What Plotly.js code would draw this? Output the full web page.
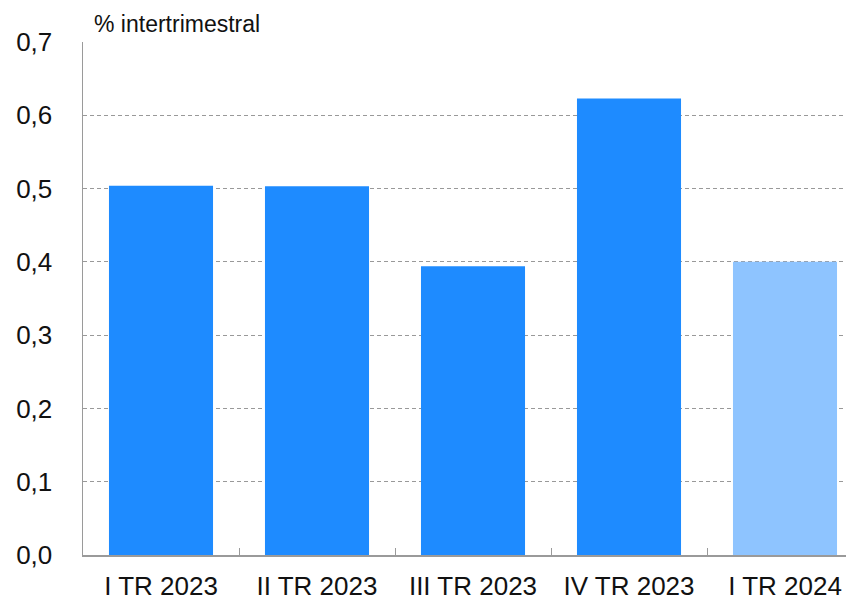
<!DOCTYPE html>
<html>
<head>
<meta charset="utf-8">
<script src="https://cdn.plot.ly/plotly-3.0.1.min.js"></script>
<style>html,body{margin:0;padding:0;background:#fff}#chart{width:846px;height:600px}</style>
</head>
<body>
<div id="chart"></div>
<script>
const categories = ["I TR 2023", "II TR 2023", "III TR 2023", "IV TR 2023", "I TR 2024"];
const values = [0.504, 0.503, 0.394, 0.623, 0.400];
const barColors = ["#1E8BFF", "#1E8BFF", "#1E8BFF", "#1E8BFF", "#8EC4FF"];
const yTicks = [0, 0.1, 0.2, 0.3, 0.4, 0.5, 0.6, 0.7];

const trace = {
  type: "bar",
  x: categories,
  y: values,
  marker: { color: barColors, line: { width: 0 } },
  hoverinfo: "skip"
};

const layout = {
  width: 846, height: 600,
  margin: { l: 83, r: 0, t: 42, b: 45, pad: 0 },
  paper_bgcolor: "#fff", plot_bgcolor: "#fff",
  separators: ",.",
  bargap: 0.333,
  showlegend: false,
  font: { family: "Liberation Sans, Arial, sans-serif", color: "#111", size: 26 },
  xaxis: {
    type: "category",
    range: [-0.5, 4.391],
    tickson: "boundaries",
    ticks: "inside", ticklen: 7, tickcolor: "#9a9a9a", tickwidth: 1,
    showline: true, linecolor: "#9a9a9a", linewidth: 1.5,
    showgrid: false, zeroline: false,
    tickfont: { size: 26, color: "#111" },
    ticklabelstandoff: 7
  },
  yaxis: {
    range: [0, 0.7],
    tickvals: yTicks,
    tickformat: ".1f",
    ticks: "", showline: true, linecolor: "#9a9a9a", linewidth: 1.5,
    showgrid: true, gridcolor: "#999", griddash: "4px,3px", gridwidth: 1,
    zeroline: false,
    tickfont: { size: 26, color: "#111" },
    ticklabelstandoff: 24
  },
  annotations: [{
    text: "% intertrimestral", xref: "paper", yref: "paper",
    x: 0.012, y: 1, xanchor: "left", yanchor: "bottom", yshift: 3,
    showarrow: false, font: { size: 23, color: "#111" }
  }]
};

Plotly.newPlot("chart", [trace], layout, { staticPlot: true });
</script>
</body>
</html>
